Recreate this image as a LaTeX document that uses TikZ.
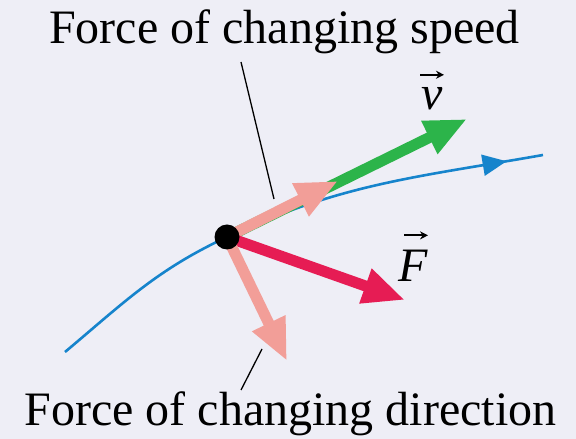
\documentclass[tikz,border=0pt]{standalone}
\usepackage{fontspec}
\setmainfont{Liberation Serif}
\usetikzlibrary{arrows.meta, decorations.markings, positioning}
\definecolor{fondo}{RGB}{238,238,246}
\definecolor{rosa}{RGB}{242,158,152}
\definecolor{rojo}{RGB}{230,28,84}
\definecolor{verde}{RGB}{44,180,74}
\definecolor{azul}{RGB}{22,132,204}
\tikzset{
    flecha/.style={line width=11pt, -{Triangle[length=42pt,width=34pt]}},
    trayectoria/.style={line width=2.6pt, azul, postaction={decorate},
        decoration={markings, mark=at position 0.93 with {\arrow{Triangle[length=24pt,width=21pt]}}}},
    guia/.style={line width=1.3pt},
    rotulo/.style={font=\fontsize{48}{58}\selectfont, inner sep=0pt, anchor=base},
    vector/.style={line width=2pt, -{Stealth[length=8pt,width=8pt]}},
}

\begin{document}
\begin{tikzpicture}[x=1pt,y=1pt]
\fill[fondo] (0,0) rectangle (576,439);
\useasboundingbox (0,0) rectangle (576,439);
\coordinate (centro) at (227,202);
\coordinate (inicio) at (65,87);
\coordinate (fin) at (543,284);
\coordinate (puntaV) at (467,320);
\coordinate (puntaT) at (338,258);
\coordinate (puntaF) at (405,139);
\coordinate (puntaN) at (287,78);
% trayectoria
\draw[trayectoria] (inicio) to[out=40,in=205] (centro) to[out=25,in=190] (fin);
% flechas
\draw[flecha, verde] (centro) -- (puntaV);
\draw[flecha, rosa] (centro) -- (puntaT);
\draw[flecha, rojo] (centro) -- (puntaF);
\draw[flecha, rosa] (centro) -- (puntaN);
\node[circle, fill=black, minimum size=25pt, inner sep=0pt] (punto) at (centro) {};
% rotulos
\node[rotulo] (rapidez) at (284.5,395) {Force of changing speed};
\node[rotulo] (direccion) at (290.5,13) {Force of changing direction};
\node[rotulo] (etiqV) at (432,329) {\textit{v}};
\node[rotulo] (etiqF) at (413,157) {\textit{F}};
\draw[vector] ([xshift=-12pt,yshift=13pt]etiqV.north) -- ([xshift=12pt,yshift=13pt]etiqV.north);
\draw[vector] ([xshift=-9pt,yshift=15pt]etiqF.north) -- ([xshift=15pt,yshift=15pt]etiqF.north);
\coordinate (guia1a) at (241,377);
\coordinate (guia1b) at (274,240);
\coordinate (guia2a) at (262,90);
\coordinate (guia2b) at (241,49);
\draw[guia] (guia1a) -- (guia1b);
\draw[guia] (guia2a) -- (guia2b);
\end{tikzpicture}
\end{document}
